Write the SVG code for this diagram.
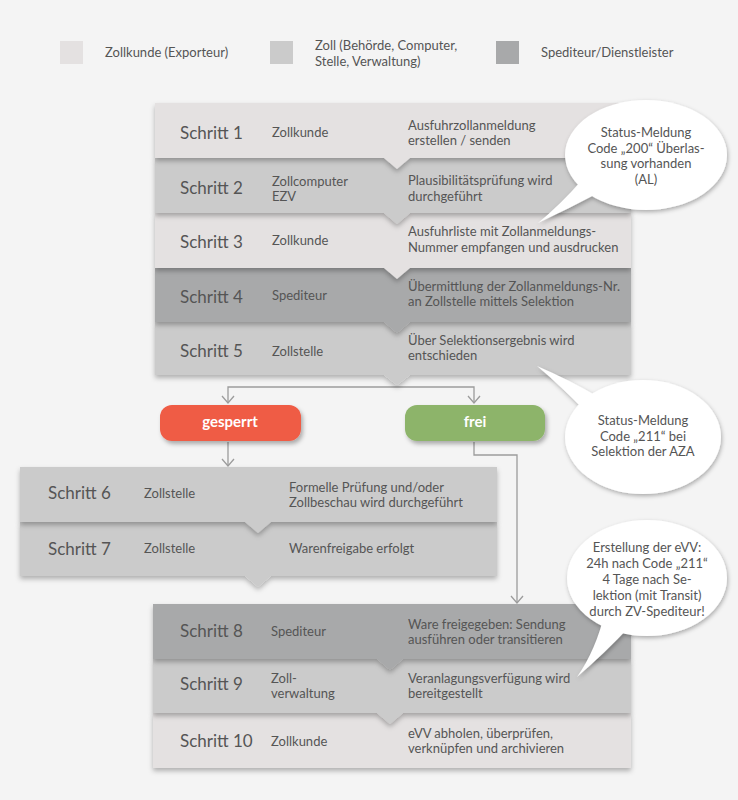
<svg xmlns="http://www.w3.org/2000/svg" width="738" height="800" viewBox="0 0 738 800">
<style>
text{font-family:Lato,"Noto Sans","Liberation Sans",sans-serif;fill:#555}
.st{font-size:17px}
.t{font-size:13px}
.c{text-anchor:middle}
.btn{font-size:15px;font-weight:bold;fill:#fff;text-anchor:middle}
.lt{fill:#e4e1e1}.md{fill:#cbcbcb}.dk{fill:#a8a9aa}
.con{fill:none;stroke:#9c9c9c;stroke-width:1.3}
</style>
<defs>
<filter id="sh" x="-10%" y="-20%" width="120%" height="160%"><feDropShadow dx="0" dy="3" stdDeviation="2.5" flood-color="#000" flood-opacity="0.28"/></filter>
<filter id="bsh" x="-10%" y="-20%" width="130%" height="160%"><feDropShadow dx="2" dy="3" stdDeviation="2" flood-color="#000" flood-opacity="0.3"/></filter>
<filter id="csh" x="-20%" y="-20%" width="140%" height="150%"><feDropShadow dx="1" dy="2" stdDeviation="2" flood-color="#000" flood-opacity="0.3"/></filter>
<marker id="ar" markerUnits="userSpaceOnUse" markerWidth="14" markerHeight="14" viewBox="-8 -7 10 14" refX="0" refY="0" orient="auto"><path d="M-7,-6 L0,0 L-7,6" fill="none" stroke="#9c9c9c" stroke-width="1.3"/></marker>
</defs>
<rect width="738" height="800" fill="#f4f4f4"/>

<g id="legend">
<rect x="60" y="41" width="23" height="23" class="lt"/>
<text x="105" y="57" class="t">Zollkunde (Exporteur)</text>
<rect x="270" y="41" width="23" height="23" class="md"/>
<text x="315" y="50" class="t">Zoll (Behörde, Computer,</text>
<text x="315" y="66" class="t">Stelle, Verwaltung)</text>
<rect x="496" y="41" width="23" height="23" class="dk"/>
<text x="541" y="57" class="t">Spediteur/Dienstleister</text>
</g>

<g id="connectors">
<path class="con" d="M397,387 H228 V403" marker-end="url(#ar)"/>
<path class="con" d="M397,387 H474 V403" marker-end="url(#ar)"/>
<path class="con" d="M228,442 V466" marker-end="url(#ar)"/>
<path class="con" d="M474,442 V455 H517 V603" marker-end="url(#ar)"/>
</g>

<g id="step5">
<path class="md" filter="url(#sh)" d="M155,322 H631 V375 H410 L397,385 L384,375 H155 Z"/>
<text x="180" y="357" class="st">Schritt 5</text>
<text x="272" y="356" class="t">Zollstelle</text>
<text x="408" y="345" class="t">Über Selektionsergebnis wird</text>
<text x="408" y="360" class="t">entschieden</text>
</g>
<g id="step4">
<path class="dk" filter="url(#sh)" d="M155,268 H631 V322 H410 L397,333 L384,322 H155 Z"/>
<text x="180" y="303" class="st">Schritt 4</text>
<text x="272" y="300" class="t">Spediteur</text>
<text x="408" y="291" class="t">Übermittlung der Zollanmeldungs-Nr.</text>
<text x="408" y="306" class="t">an Zollstelle mittels Selektion</text>
</g>
<g id="step3">
<path class="lt" filter="url(#sh)" d="M155,213 H631 V268 H410 L397,279 L384,268 H155 Z"/>
<text x="180" y="248" class="st">Schritt 3</text>
<text x="272" y="245" class="t">Zollkunde</text>
<text x="408" y="236" class="t">Ausfuhrliste mit Zollanmeldungs-</text>
<text x="408" y="252" class="t">Nummer empfangen und ausdrucken</text>
</g>
<g id="step2">
<path class="md" filter="url(#sh)" d="M155,158 H631 V213 H410 L397,224 L384,213 H155 Z"/>
<text x="180" y="194" class="st">Schritt 2</text>
<text x="272" y="186" class="t">Zollcomputer</text>
<text x="272" y="201" class="t">EZV</text>
<text x="408" y="185" class="t">Plausibilitätsprüfung wird</text>
<text x="408" y="201" class="t">durchgeführt</text>
</g>
<g id="step1">
<path class="lt" filter="url(#sh)" d="M155,103 H631 V158 H410 L397,169 L384,158 H155 Z"/>
<text x="180" y="139" class="st">Schritt 1</text>
<text x="272" y="137" class="t">Zollkunde</text>
<text x="408" y="130" class="t">Ausfuhrzollanmeldung</text>
<text x="408" y="145" class="t">erstellen / senden</text>
</g>

<g id="gesperrt">
<rect x="160" y="405" width="141" height="36" rx="12" fill="#ef5b45" filter="url(#bsh)"/>
<text x="230" y="427" class="btn">gesperrt</text>
</g>
<g id="frei">
<rect x="405" y="405" width="140" height="36" rx="12" fill="#8db46b" filter="url(#bsh)"/>
<text x="475" y="427" class="btn">frei</text>
</g>

<g id="step7">
<path class="md" filter="url(#sh)" d="M20,522 H497 V576 H271 L258,587 L245,576 H20 Z"/>
<text x="48" y="555" class="st">Schritt 7</text>
<text x="144" y="553" class="t">Zollstelle</text>
<text x="289" y="553" class="t">Warenfreigabe erfolgt</text>
</g>
<g id="step6">
<path class="md" filter="url(#sh)" d="M20,467 H497 V522 H271 L258,533 L245,522 H20 Z"/>
<text x="48" y="499" class="st">Schritt 6</text>
<text x="144" y="498" class="t">Zollstelle</text>
<text x="289" y="492" class="t">Formelle Prüfung und/oder</text>
<text x="289" y="507" class="t">Zollbeschau wird durchgeführt</text>
</g>

<g id="step10">
<path class="lt" filter="url(#sh)" d="M153,713 H631 V768 H153 Z"/>
<text x="180" y="747" class="st">Schritt 10</text>
<text x="271" y="746" class="t">Zollkunde</text>
<text x="408" y="738" class="t">eVV abholen, überprüfen,</text>
<text x="408" y="753" class="t">verknüpfen und archivieren</text>
</g>
<g id="step9">
<path class="md" filter="url(#sh)" d="M153,659 H631 V713 H403 L390,724 L377,713 H153 Z"/>
<text x="180" y="690" class="st">Schritt 9</text>
<text x="271" y="683" class="t">Zoll-</text>
<text x="271" y="698" class="t">verwaltung</text>
<text x="408" y="683" class="t">Veranlagungsverfügung wird</text>
<text x="408" y="698" class="t">bereitgestellt</text>
</g>
<g id="step8">
<path class="dk" filter="url(#sh)" d="M153,604 H631 V659 H403 L390,670 L377,659 H153 Z"/>
<text x="180" y="637" class="st">Schritt 8</text>
<text x="271" y="636" class="t">Spediteur</text>
<text x="408" y="629" class="t">Ware freigegeben: Sendung</text>
<text x="408" y="644" class="t">ausführen oder transitieren</text>
</g>

<g id="bubble1">
<g filter="url(#csh)" fill="#fff">
<ellipse cx="646" cy="155" rx="81" ry="55"/>
<path d="M582,180 Q560,205 538,223 Q570,208 600,192 Z"/>
</g>
<text x="646" y="137" class="t c">Status-Meldung</text>
<text x="646" y="153" class="t c">Code „200“ Überlas-</text>
<text x="646" y="168" class="t c">sung vorhanden</text>
<text x="646" y="184" class="t c">(AL)</text>
</g>

<g id="bubble2">
<g filter="url(#csh)" fill="#fff">
<ellipse cx="643" cy="437" rx="78" ry="57"/>
<path d="M586,412 Q560,385 537,366 Q570,380 600,398 Z"/>
</g>
<text x="643" y="425" class="t c">Status-Meldung</text>
<text x="643" y="441" class="t c">Code „211“ bei</text>
<text x="643" y="456" class="t c">Selektion der AZA</text>
</g>

<g id="bubble3">
<g filter="url(#csh)" fill="#fff">
<ellipse cx="647" cy="578" rx="80" ry="58"/>
<path d="M605,612 Q596,650 577,677 Q606,652 630,626 Z"/>
</g>
<text x="647" y="552" class="t c">Erstellung der eVV:</text>
<text x="647" y="568" class="t c">24h nach Code „211“</text>
<text x="647" y="584" class="t c">4 Tage nach Se-</text>
<text x="647" y="600" class="t c">lektion (mit Transit)</text>
<text x="647" y="616" class="t c">durch ZV-Spediteur!</text>
</g>
</svg>
